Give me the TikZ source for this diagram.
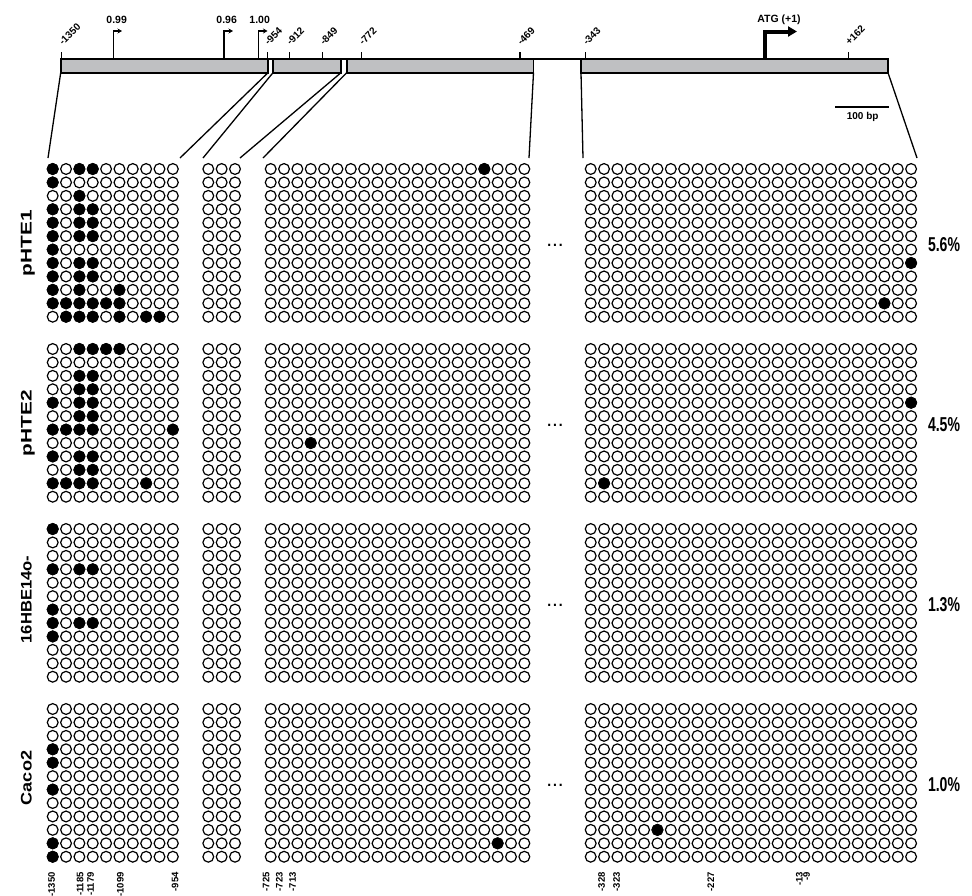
\documentclass[tikz,border=0pt]{standalone}
\usepackage{fontspec}
\setmainfont{Liberation Sans}
\usepackage{graphicx}
\usetikzlibrary{arrows.meta}
\definecolor{barfill}{RGB}{191,192,194}
\newcommand\mcpg[4]{\draw[meth] ({#2+13.35*(#3-1)},{169+180*#1+13.43*(#4-1)}) circle[radius=5.4pt];}
\begin{document}
\begin{tikzpicture}[x=1pt,y=-1pt,
  seg/.style={draw=black,fill=barfill,line width=1.6pt},
  conn/.style={line width=1.3pt},
  tickmark/.style={line width=1.3pt},
  ticklab/.style={font=\bfseries\fontsize{10}{10}\selectfont,rotate=45,anchor=south west,inner sep=0pt},
  tsslab/.style={font=\bfseries\fontsize{10.5}{10.5}\selectfont,inner sep=0pt},
  tss/.style={line width=1.3pt,-{Stealth[length=4.5pt,width=5pt]}},
  cpg/.style={line width=1.2pt,draw=black,fill=white},
  meth/.style={line width=1.2pt,draw=black,fill=black},
  rowlab/.style={font=\bfseries,rotate=90,inner sep=0pt,anchor=base},
  pct/.style={font=\bfseries,inner sep=0pt,anchor=base},
  poslab/.style={font=\bfseries\fontsize{9.5}{9.5}\selectfont,rotate=90,anchor=east,inner sep=0pt},
]
\useasboundingbox (0,0) rectangle (972,895);
% ---- gene map bar
\draw[line width=1.6pt] (60.7,59) -- (888,59);
\foreach \a/\b in {60.7/268, 273/341, 346.7/533.5, 581/888}
  {\draw[seg] (\a,59) rectangle (\b,72.7);}
% ticks and labels
\foreach \x/\t [count=\i] in {61.7/-1350, 267.3/-954, 289.3/-912, 322.7/-849, 361.7/-772, 520/-469, 585.7/-343, 848.3/+162}{
  \draw[tickmark] (\x,59) -- (\x,51.5);
  \node[ticklab] (tl\i) at (\x+1.5,46) {\t};
}
% transcription start sites
\draw[tss] (113.3,59) -- (113.3,31) -- (122,31);
\draw[tss] (224,59) -- (224,31) -- (233,31);
\draw[tss] (258.3,59) -- (258.3,31) -- (267.5,31);
\node[tsslab] (t1) at (116.7,20) {0.99};
\node[tsslab] (t2) at (226.7,20) {0.96};
\node[tsslab] (t3) at (259.7,20) {1.00};
\draw[line width=4pt,-{Triangle[length=9pt,width=10pt]}] (765,59) -- (765,31.5) -- (797,31.5);
\node[tsslab] (atg) at (779,20) {ATG (+1)};
% scale bar
\draw[line width=2pt] (835,106.7) -- (889.3,106.7);
\node[tsslab,font=\bfseries\fontsize{10}{10}\selectfont] (sb) at (862.7,117) {100 bp};
% ---- connectors
\coordinate (s1l) at (60.7,72.7); \coordinate (s1r) at (268,72.7);
\coordinate (s2l) at (273,72.7);  \coordinate (s2r) at (341,72.7);
\coordinate (s3l) at (346.7,72.7);\coordinate (s3r) at (533.5,72.7);
\coordinate (s4l) at (581,72.7);  \coordinate (s4r) at (888,72.7);
\coordinate (gAl) at (48,158);  \coordinate (gAr) at (180,158);
\coordinate (gBl) at (203,158); \coordinate (gBr) at (240,158);
\coordinate (gCl) at (263,158); \coordinate (gCr) at (529,158);
\coordinate (gDl) at (583,158); \coordinate (gDr) at (917,158);
\draw[conn] (s1l) -- (gAl);
\draw[conn] (s1r) -- (gAr);
\draw[conn] (s2l) -- (gBl);
\draw[conn] (s2r) -- (gBr);
\draw[conn] (s3l) -- (gCl);
\draw[conn] (s3r) -- (gCr);
\draw[conn] (s4l) -- (gDl);
\draw[conn] (s4r) -- (gDr);
% ---- CpG circles
\foreach \p in {0,...,3}{
  \foreach \r in {0,...,11}{
    \pgfmathsetmacro\yy{169+180*\p+13.43*\r}
    \foreach \x/\n in {52.7/9, 208.3/2, 270.7/19, 590.7/24}{
      \foreach \c in {0,...,\n}{\draw[cpg] ({\x+13.35*\c},\yy) circle[radius=5.4pt];}
    }
  }
  \node[font=\fontsize{21}{21}\selectfont,anchor=base,inner sep=0pt] (dots\p) at (555,{169+180*\p+77}) {...};
}
% methylated CpGs
% panel 1 pHTE1
\foreach \c/\r in {1/1,3/1,4/1,1/2,3/3,1/4,3/4,4/4,1/5,3/5,4/5,1/6,3/6,4/6,1/7,1/8,3/8,4/8,1/9,3/9,4/9,1/10,3/10,6/10,1/11,2/11,3/11,4/11,5/11,6/11,2/12,3/12,4/12,6/12,8/12,9/12}
  {\mcpg{0}{52.7}{\c}{\r}}
\mcpg{0}{270.7}{17}{1}
\mcpg{0}{590.7}{25}{8}
\mcpg{0}{590.7}{23}{11}
% panel 2 pHTE2
\foreach \c/\r in {3/1,4/1,5/1,6/1,3/3,4/3,3/4,4/4,1/5,3/5,4/5,3/6,4/6,1/7,2/7,3/7,4/7,10/7,1/9,3/9,4/9,3/10,4/10,1/11,2/11,3/11,4/11,8/11}
  {\mcpg{1}{52.7}{\c}{\r}}
\mcpg{1}{270.7}{4}{8}
\mcpg{1}{590.7}{25}{5}
\mcpg{1}{590.7}{2}{11}
% panel 3 16HBE14o-
\foreach \c/\r in {1/1,1/4,3/4,4/4,1/7,1/8,3/8,4/8,1/9}
  {\mcpg{2}{52.7}{\c}{\r}}
% panel 4 Caco2
\foreach \c/\r in {1/4,1/5,1/7,1/11,1/12}
  {\mcpg{3}{52.7}{\c}{\r}}
\mcpg{3}{270.7}{18}{11}
\mcpg{3}{590.7}{6}{10}
% ---- row labels
\node[rowlab] (l1) at (31.7,243) {\resizebox{66pt}{10.7pt}{pHTE1}};
\node[rowlab] (l2) at (31.7,423) {\resizebox{66pt}{10.7pt}{pHTE2}};
\node[rowlab] (l3) at (31.7,599.5) {\resizebox{87.7pt}{10.7pt}{16HBE14o-}};
\node[rowlab] (l4) at (31.7,778) {\resizebox{54.3pt}{10.7pt}{Caco2}};
% ---- percentages
\node[pct] (p1) at (944,251.7) {\resizebox{32pt}{14pt}{5.6\%}};
\node[pct] (p2) at (944,431.7) {\resizebox{32pt}{14pt}{4.5\%}};
\node[pct] (p3) at (944,611.7) {\resizebox{32pt}{14pt}{1.3\%}};
\node[pct] (p4) at (944,791.7) {\resizebox{32pt}{14pt}{1.0\%}};
% ---- CpG positions
\foreach \x/\t [count=\i] in {51.7/-1350, 80/-1185, 90.7/-1179, 120.3/-1099, 175/-954, 266/-725, 279.3/-723, 292.7/-713, 601.7/-328, 616.7/-323, 710.7/-227, 799.3/-13, 806.7/-9}
  {\node[poslab] (b\i) at (\x,872) {\t};}
\end{tikzpicture}
\end{document}
